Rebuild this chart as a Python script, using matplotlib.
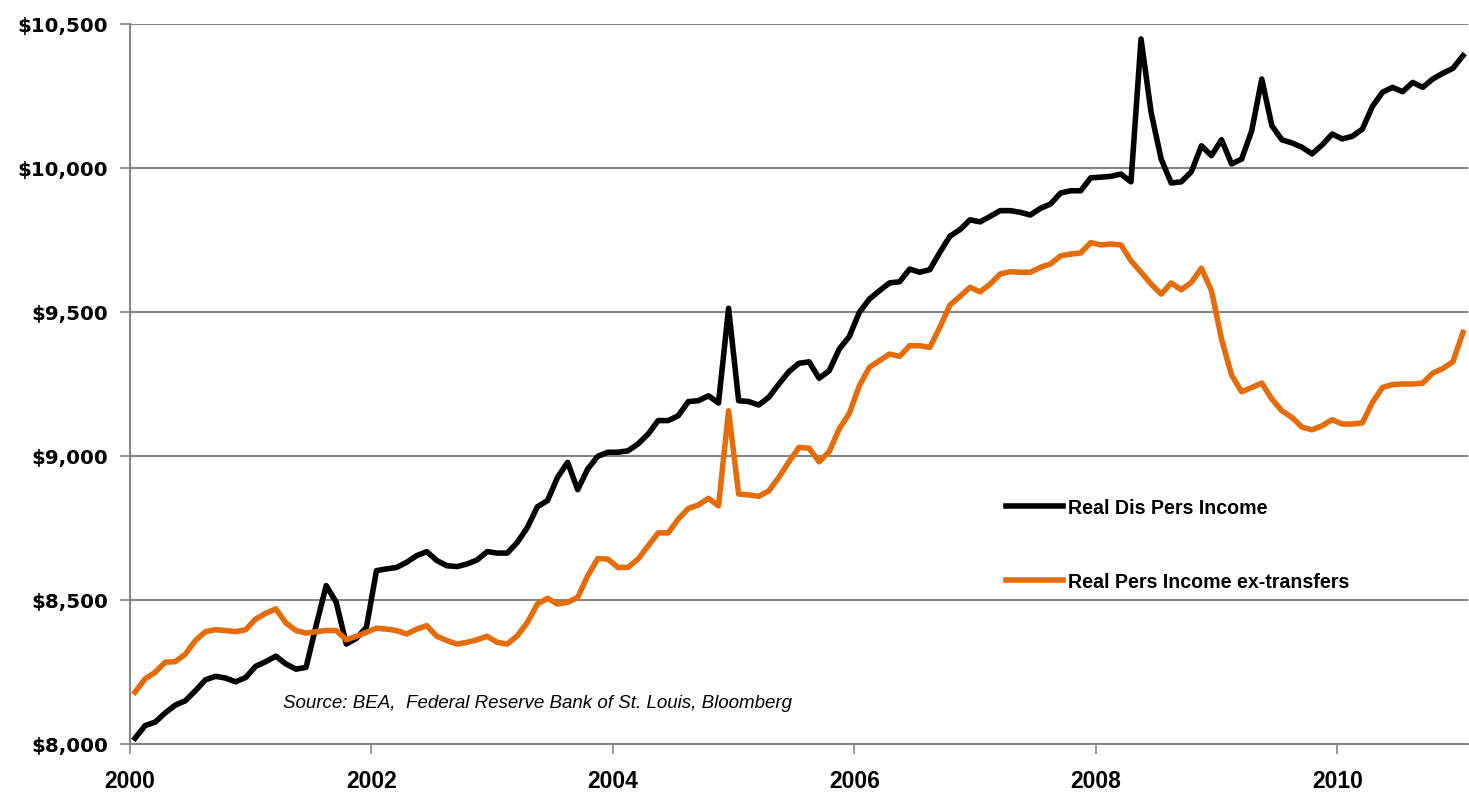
import matplotlib
matplotlib.use("Agg")
import matplotlib.pyplot as plt
import numpy as np
from matplotlib.ticker import FuncFormatter

# Monthly data, Jan 2000 - Jan 2011 (billions of chained dollars)
real_dis_pers_income = [
    8020, 8064, 8076, 8108, 8135, 8150, 8185, 8223, 8235, 8229, 8216, 8231,   # 2000
    8270, 8286, 8305, 8278, 8260, 8266, 8411, 8550, 8492, 8347, 8367, 8405,   # 2001
    8602, 8608, 8613, 8631, 8654, 8668, 8637, 8619, 8616, 8625, 8639, 8668,   # 2002
    8663, 8663, 8700, 8752, 8824, 8845, 8926, 8978, 8883, 8955, 8999, 9013,   # 2003
    9013, 9018, 9042, 9076, 9123, 9123, 9140, 9189, 9192, 9209, 9184, 9513,   # 2004
    9192, 9189, 9177, 9204, 9250, 9293, 9322, 9327, 9270, 9296, 9371, 9415,   # 2005
    9499, 9545, 9574, 9601, 9605, 9649, 9638, 9647, 9707, 9763, 9786, 9820,   # 2006
    9813, 9832, 9852, 9852, 9846, 9837, 9860, 9875, 9913, 9921, 9921, 9966,   # 2007
    9968, 9971, 9979, 9952, 10448, 10193, 10031, 9948, 9952, 9987, 10077, 10043,  # 2008
    10098, 10014, 10031, 10129, 10309, 10147, 10098, 10087, 10072, 10049, 10080, 10118,  # 2009
    10101, 10110, 10135, 10214, 10263, 10280, 10265, 10297, 10280, 10309, 10329, 10346,  # 2010
    10390,                                                                     # 2011
]
real_pers_income_ex_transfers = [
    8180, 8226, 8249, 8284, 8286, 8312, 8359, 8390, 8397, 8394, 8390, 8397,   # 2000
    8434, 8454, 8469, 8420, 8394, 8385, 8390, 8394, 8394, 8362, 8374, 8388,   # 2001
    8402, 8399, 8394, 8382, 8399, 8411, 8374, 8359, 8347, 8353, 8362, 8374,   # 2002
    8353, 8347, 8376, 8422, 8486, 8506, 8486, 8492, 8509, 8584, 8644, 8642,   # 2003
    8613, 8613, 8642, 8688, 8733, 8733, 8781, 8818, 8830, 8853, 8827, 9157,   # 2004
    8868, 8865, 8860, 8879, 8926, 8980, 9030, 9027, 8980, 9015, 9094, 9148,   # 2005
    9244, 9308, 9331, 9354, 9346, 9383, 9383, 9377, 9447, 9524, 9554, 9586,   # 2006
    9570, 9597, 9632, 9640, 9638, 9638, 9655, 9667, 9695, 9701, 9705, 9741,   # 2007
    9733, 9736, 9733, 9678, 9638, 9597, 9562, 9601, 9577, 9603, 9652, 9574,   # 2008
    9406, 9281, 9223, 9238, 9253, 9198, 9157, 9134, 9100, 9091, 9105, 9126,   # 2009
    9111, 9111, 9115, 9186, 9238, 9248, 9250, 9250, 9253, 9288, 9304, 9327,   # 2010
    9429,                                                                     # 2011
]
series_labels = ["Real Dis Pers Income", "Real Pers Income ex-transfers"]
x_tick_years = [2000, 2002, 2004, 2006, 2008, 2010]
y_ticks = [8000, 8500, 9000, 9500, 10000, 10500]
source_text = "Source: BEA,  Federal Reserve Bank of St. Louis, Bloomberg"

n = len(real_dis_pers_income)
months = 2000 + (np.arange(n) + 0.5) / 12.0

W, H = 1469, 803
fig = plt.figure(figsize=(W / 100, H / 100), dpi=100)
ax = fig.add_axes([130 / W, 1 - 745 / H, (1468 - 130) / W, (745 - 25) / H])

narrow = ["Liberation Sans Narrow", "Liberation Sans", "DejaVu Sans"]
grid_col = "#868686"

ax.plot(months, real_dis_pers_income, color="black", lw=4.0,
        solid_joinstyle="round", label=series_labels[0], zorder=3)
ax.plot(months, real_pers_income_ex_transfers, color="#E46C0A", lw=4.0,
        solid_joinstyle="round", label=series_labels[1], zorder=3)

ax.set_xlim(2000, 2000 + n / 12.0)
ax.set_ylim(8000, 10500)
ax.set_xticks(x_tick_years)
ax.set_yticks(y_ticks)
ax.yaxis.set_major_formatter(FuncFormatter(lambda v, p: f"${v:,.0f}"))

for s in ["top", "right"]:
    ax.spines[s].set_visible(False)
for s in ["left", "bottom"]:
    ax.spines[s].set_color(grid_col)
    ax.spines[s].set_linewidth(1.5)
ax.yaxis.grid(True, color=grid_col, lw=1.5)
ax.set_axisbelow(True)

ax.tick_params(axis="both", direction="out", length=7, width=1.2, color=grid_col)
ax.tick_params(axis="y", pad=9)
ax.tick_params(axis="x", pad=11)
for lab in ax.get_yticklabels():
    lab.set_fontfamily("DejaVu Sans")
    lab.set_fontweight("bold")
    lab.set_fontsize(14.3)
for lab in ax.get_xticklabels():
    lab.set_fontfamily(narrow)
    lab.set_fontweight("bold")
    lab.set_fontsize(16.5)

leg = ax.legend(loc="upper left", bbox_to_anchor=(1006 / W, 1 - 499 / H),
                bbox_transform=fig.transFigure, frameon=False,
                prop={"family": narrow, "weight": "bold", "size": 14.1},
                handlelength=2.9, handletextpad=0.25, labelspacing=2.8,
                borderpad=0, borderaxespad=0)
for line in leg.get_lines():
    line.set_linewidth(4.0)

fig.text(283 / W, 1 - 704 / H, source_text, family=narrow, style="italic",
         fontsize=13.5, va="center", ha="left")

fig.savefig("out.png", dpi=100)
